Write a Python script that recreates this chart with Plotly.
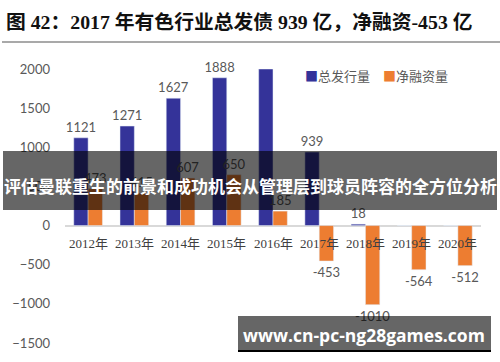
import plotly.graph_objects as go

categories = ["2012年", "2013年", "2014年", "2015年", "2016年", "2017年", "2018年", "2019年", "2020年"]
total_issue = [1121, 1271, 1627, 1888, 2000, 939, 18, 0, 0]
total_labels = ["1121", "1271", "1627", "1888", "", "939", "18", "", ""]
net_finance = [473, 415, 607, 650, 185, -453, -1010, -564, -512]
net_labels = ["473", "415", "607", "650", "185", "-453", "-1010", "-564", "-512"]
series_names = ["总发行量", "净融资量"]
series_colors = ["#343399", "#ED7D31"]
y_ticks = [-1500, -1000, -500, 0, 500, 1000, 1500, 2000]

title_text = "图 42：2017 年有色行业总发债 939 亿，净融资-453 亿"
band_text = "评估曼联重生的前景和成功机会从管理层到球员阵容的全方位分析"
watermark_text = "www.cn-pc-ng28games.com"

W, H = 500, 362
L, R, T, B = 65, 19, 69, 19
PW, PH = W - L - R, H - T - B


def px(x):
    return (x - L) / PW


def py(y):
    return (H - B - y) / PH


label_font = dict(family="Lato, Open Sans, sans-serif", size=13, color="#595959")

fig = go.Figure()
fig.add_trace(go.Bar(
    x=categories, y=total_issue, name=series_names[0],
    marker_color=series_colors[0], text=total_labels, textposition="outside",
    textfont=label_font, constraintext="none", cliponaxis=False,
))
fig.add_trace(go.Bar(
    x=categories, y=net_finance, name=series_names[1],
    marker_color=series_colors[1], text=net_labels, textposition="outside",
    textfont=label_font, constraintext="none", cliponaxis=False,
))

shapes = [
    dict(type="line", xref="paper", yref="paper", x0=px(2), x1=px(500), y0=py(42), y1=py(42),
         line=dict(color="#555555", width=1.2), layer="above"),
    dict(type="rect", xref="paper", yref="paper", x0=px(3), x1=px(497), y0=py(210), y1=py(151),
         fillcolor="rgba(0,0,0,0.6)", line=dict(width=0), layer="above"),
    dict(type="rect", xref="paper", yref="paper", x0=px(238), x1=px(491), y0=py(350), y1=py(316),
         fillcolor="rgba(0,0,0,0.6)", line=dict(width=0), layer="above"),
    dict(type="line", xref="paper", yref="paper", x0=px(238), x1=px(491), y0=py(351), y1=py(351),
         line=dict(color="#000000", width=2), layer="above"),
]

annotations = []
for c in categories:
    annotations.append(dict(
        text=c, x=c, y=0, xref="x", yref="y", yanchor="top", xanchor="center", yshift=-8,
        showarrow=False, font=dict(family="Liberation Serif, Noto Sans CJK SC", size=13, color="#404040"),
    ))
legend_x = [303, 381]
for name, color, lx in zip(series_names, series_colors, legend_x):
    annotations.append(dict(
        text=f"<span style='color:{color}'>■</span>{name}", xref="paper", yref="paper",
        x=px(lx), y=py(75), xanchor="left", yanchor="middle", showarrow=False,
        font=dict(family="Noto Sans CJK SC", size=13, color="#595959"),
    ))
annotations += [
    dict(text=title_text, xref="paper", yref="paper", x=px(4), y=py(22), xanchor="left", yanchor="middle",
         showarrow=False, font=dict(family="Liberation Serif, Noto Sans CJK SC", size=19.8, color="#111111",
                                     weight="bold")),
    dict(text=band_text, xref="paper", yref="paper", x=px(250), y=py(185), xanchor="center", yanchor="middle",
         showarrow=False, font=dict(family="Noto Sans CJK SC", size=17, color="#ffffff", weight="bold")),
    dict(text=watermark_text, xref="paper", yref="paper", x=px(364), y=py(335), xanchor="center",
         yanchor="middle", showarrow=False,
         font=dict(family="Open Sans, Noto Sans", size=17.5, color="#ffffff", weight="bold")),
]

fig.update_layout(
    width=W, height=H,
    margin=dict(l=L, r=R, t=T, b=B),
    paper_bgcolor="white", plot_bgcolor="white",
    barmode="group", bargap=0.38, bargroupgap=0,
    showlegend=False,
    shapes=shapes,
    annotations=annotations,
    xaxis=dict(showgrid=False, showline=False, ticks="", showticklabels=False, automargin=False),
    yaxis=dict(range=[-1500, 2000], tickvals=y_ticks, showgrid=False, showline=False,
               zeroline=True, zerolinecolor="#D9D9D9", zerolinewidth=1.5, automargin=False,
               tickfont=dict(family="Lato, Open Sans, sans-serif", size=13, color="#595959"),
               ticklabelstandoff=14),
)

fig.write_html("out.html", config={"displayModeBar": False},
               post_script="document.body.style.margin='0';document.body.style.overflow='hidden';")
